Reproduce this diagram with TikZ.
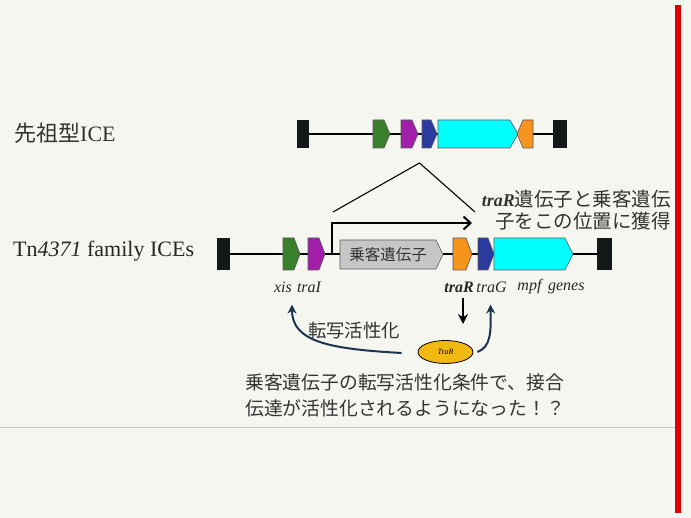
\documentclass[tikz,border=0pt]{standalone}
\usepackage{fontspec}
\setmainfont{Liberation Serif}
\newfontfamily\jp{Noto Sans CJK JP}
\usetikzlibrary{arrows.meta,shapes.geometric}
\definecolor{bgc}{HTML}{F6F6F1}
\definecolor{gGreen}{HTML}{3A7F2C}
\definecolor{gPurple}{HTML}{A01EA8}
\definecolor{gBlue}{HTML}{2A3A9E}
\definecolor{gCyan}{HTML}{00FFFF}
\definecolor{gOrange}{HTML}{F7941D}
\definecolor{gBar}{HTML}{141818}
\definecolor{gGray}{HTML}{C6C6C6}
\definecolor{navy}{HTML}{1B3550}
\definecolor{txt}{HTML}{333333}
\definecolor{redbar}{HTML}{E00000}
\definecolor{tryel}{HTML}{F2B912}
\newcommand\geneR[6]{% x1 x2 ytop ybot tip colour
  \filldraw[genestyle,fill=#6] (#1,#3) -- ({#2-#5},#3) -- (#2,{(#3+#4)/2}) -- ({#2-#5},#4) -- (#1,#4) -- cycle;}
\newcommand\geneL[6]{%
  \filldraw[genestyle,fill=#6] (#2,#3) -- ({#1+#5},#3) -- (#1,{(#3+#4)/2}) -- ({#1+#5},#4) -- (#2,#4) -- cycle;}
\tikzset{
  genestyle/.style={draw=black!65,line width=0.6pt},
  barstyle/.style={fill=gBar},
  backbone/.style={line width=1.4pt,black},
  lbl/.style={font=\fontsize{16}{18}\selectfont\itshape,text=black!85,inner sep=0pt},
  jtxt/.style={text=txt,inner sep=0pt},
  curv/.style={line width=2pt,navy,-{Stealth[length=9pt,width=9pt]}},
}
\begin{document}
\begin{tikzpicture}[x=1pt,y=-1pt]
\fill[bgc] (0,0) rectangle (691,518);
\useasboundingbox (0,0) rectangle (691,518);
\fill[redbar] (675,5) rectangle (681,513);
\draw[gray!45,line width=0.8pt] (0,427) -- (675,427);

% row labels
\node[anchor=west,inner sep=0pt,text=txt,font=\fontsize{22}{24}\selectfont] (lab1) at (14,133) {{\jp 先祖型}ICE};
\node[anchor=west,inner sep=0pt,text=black!85,font=\fontsize{22}{24}\selectfont] (lab2) at (13,251) {Tn\textit{4371} family ICEs};

% ancestral ICE
\draw[backbone] (303,134) -- (560,134);
\fill[barstyle] (297,120) rectangle (309,148);
\geneR{373}{390}{120}{148}{6}{gGreen}
\geneR{401}{418}{120}{148}{6}{gPurple}
\geneR{422}{437}{120}{148}{6}{gBlue}
\geneR{438}{518}{120}{148}{8}{gCyan}
\geneL{517}{533}{120}{148}{6}{gOrange}
\fill[barstyle] (553,120) rectangle (567,148);
\coordinate (apex) at (419.5,163);
\coordinate (legL) at (333,212);
\coordinate (legR) at (475,212);
\draw[line width=1.1pt] (legL) -- (apex) -- (legR);

% Tn4371 family ICE
\draw[backbone] (223,254) -- (605,254);
\fill[barstyle] (217,238) rectangle (230,270);
\geneR{283}{300}{238}{270}{6}{gGreen}
\geneR{308}{325}{238}{270}{6}{gPurple}
\geneR{340}{443}{240}{269}{7}{gGray}
\node[jtxt,font=\jp\fontsize{15.5}{17}\selectfont] (cargo) at (388,254.5) {乗客遺伝子};
\geneR{453}{472}{238}{270}{6}{gOrange}
\geneR{478}{494}{238}{270}{6}{gBlue}
\geneR{494}{573}{238}{270}{8}{gCyan}
\fill[barstyle] (597,238) rectangle (612,270);
\coordinate (bendS) at (332,254);
\coordinate (bendE) at (472,223);
\draw[line width=2pt,-{Straight Barb[length=7pt,width=13pt,line width=2pt]}] (bendS) |- (bendE);

% gene labels
\node[lbl] (xis) at (283,287) {xis};
\node[lbl] (traI) at (309,287) {traI};
\node[lbl,font=\fontsize{16}{18}\selectfont\bfseries\itshape] (traRl) at (459,287) {traR};
\node[lbl] (traG) at (491.5,287) {traG};
\node[lbl] (mpf) at (551,287) {mpf\, genes};

% insertion note
\node[jtxt,anchor=north east,align=right,font=\jp\fontsize{19.5}{21.5}\selectfont] (note) at (671,190)
  {{\rmfamily\bfseries\itshape\fontsize{18}{20}\selectfont traR}遺伝子と乗客遺伝\\子をこの位置に獲得};

% TraR protein
\node[ellipse,draw=black,line width=0.8pt,fill=tryel,minimum width=55pt,minimum height=23pt,inner sep=0pt,
  font=\fontsize{8}{9}\selectfont\itshape] (tr) at (445.5,352) {TraR};
\coordinate (downS) at (463,298);
\coordinate (downE) at (463,324);
\draw[line width=1.8pt,-{Stealth[length=10pt,width=10pt]}] (downS) -- (downE);
\draw[curv] ([xshift=-16pt,yshift=-1pt]tr.west) .. controls (330,349) and (292,342) .. ([xshift=9pt,yshift=-12pt]xis.south);
\draw[curv] ([xshift=4pt]tr.east) .. controls (491,347) and (491,332) .. ([xshift=-1pt,yshift=-12pt]traG.south);
\node[jtxt,font=\jp\fontsize{18.4}{20}\selectfont] (act) at (354,331) {転写活性化};

% bottom statement
\node[jtxt,anchor=north west,align=left,font=\jp\fontsize{18.8}{26.5}\selectfont] (concl) at (245,373)
  {乗客遺伝子の転写活性化条件で、接合\\伝達が活性化されるようになった！？};
\end{tikzpicture}
\end{document}
